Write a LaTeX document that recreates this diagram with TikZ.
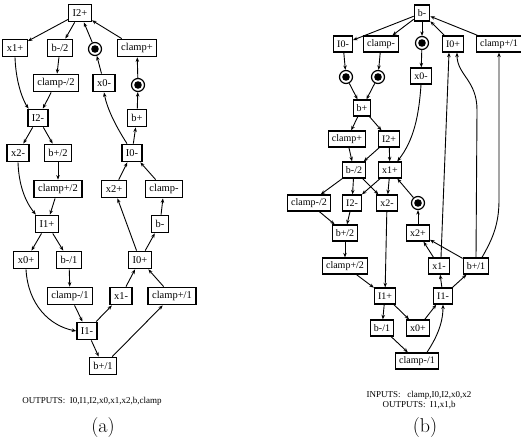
\documentclass[tikz,border=0pt]{standalone}
\usepackage{fontspec}
\usepackage{tikz}
\usetikzlibrary{arrows.meta,shapes.geometric}
\newfontfamily\tms{Liberation Serif}

\begin{document}
\begin{tikzpicture}[x=1pt,y=-1pt]
\tikzstyle{op} = [rectangle, draw, line width=1.3pt, font=\tms\fontsize{10.5}{12}\selectfont,
inner xsep=4pt, inner ysep=0pt, minimum height=17.5pt]
\tikzstyle{opb} = [op, font=\tms\fontsize{10}{12}\selectfont, inner xsep=3.5pt, minimum height=16pt]
\tikzstyle{delay} = [circle, draw, line width=1.2pt, minimum size=13pt, inner sep=0pt,
path picture={\fill (path picture bounding box.center) circle (3.8pt);}]
\tikzstyle{line} = [draw, line width=0.9pt, -{Stealth[length=4.5pt,width=3.5pt]}]
\tikzstyle{caption} = [font=\tms\fontsize{9}{10}\selectfont, align=center]
\tikzstyle{tag} = [font=\fontsize{20}{24}\selectfont]

\useasboundingbox (0,0) rectangle (521,445);

% graph (a)
\node [op] (aI2p) at (80,13) {I2+};
\node [op] (ax1p) at (15,48) {x1+};
\node [op] (abm2) at (60,48) {b-/2};
\node [delay] (acirA) at (95,49) {};
\node [op] (aclp) at (137,48) {clamp+};
\node [op] (aclm2) at (56,83) {clamp-/2};
\node [op] (ax0m) at (104,83) {x0-};
\node [delay] (acirB) at (138,85) {};
\node [op] (aI2m) at (38,118) {I2-};
\node [op] (abp) at (137,118) {b+};
\node [op] (ax2m) at (18,153) {x2-};
\node [op] (abp2) at (58,153) {b+/2};
\node [op] (aI0m) at (132,153) {I0-};
\node [op] (aclp2) at (58,189) {clamp+/2};
\node [op] (ax2p) at (114,189) {x2+};
\node [op] (aclm) at (164,189) {clamp-};
\node [op] (aI1p) at (47,224) {I1+};
\node [op] (abm) at (160,224) {b-};
\node [op] (ax0p) at (26,260) {x0+};
\node [op] (abm1) at (69,260) {b-/1};
\node [op] (aI0p) at (140,260) {I0+};
\node [op] (aclm1) at (70,296) {clamp-/1};
\node [op] (ax1m) at (121,296) {x1-};
\node [op] (aclp1) at (172,296) {clamp+/1};
\node [op] (aI1m) at (87,331) {I1-};
\node [op] (abp1) at (103,366) {b+/1};
\node [caption] (aout) at (92,401) {OUTPUTS:~~I0,I1,I2,x0,x1,x2,b,clamp};
\node [tag] (atag) at (103,427) {(a)};

% graph (b)
\node [opb] (bbm) at (422,13) {b-};
\node [opb] (bI0m) at (343,44) {I0-};
\node [opb] (bclm) at (381,44) {clamp-};
\node [delay] (bcirT) at (422,43) {};
\node [opb] (bI0p) at (453,44) {I0+};
\node [opb] (bclp1) at (499,44) {clamp+/1};
\node [delay] (bcirL) at (346,77) {};
\node [delay] (bcirR) at (378,77) {};
\node [opb] (bx0m) at (421,76) {x0-};
\node [opb] (bbp) at (362,108) {b+};
\node [opb] (bclp) at (347,139) {clamp+};
\node [opb] (bI2p) at (389,139) {I2+};
\node [opb] (bbm2) at (354,170) {b-/2};
\node [opb] (bx1p) at (390,170) {x1+};
\node [opb] (bclm2) at (309,203) {clamp-/2};
\node [opb] (bI2m) at (352,203) {I2-};
\node [opb] (bx2m) at (387,203) {x2-};
\node [delay] (bcirM) at (418,203) {};
\node [opb] (bbp2) at (345,233) {b+/2};
\node [opb] (bx2p) at (418,233) {x2+};
\node [opb] (bclp2) at (345,266) {clamp+/2};
\node [opb] (bx1m) at (439,266) {x1-};
\node [opb] (bbp1) at (476,266) {b+/1};
\node [opb] (bI1p) at (385,296) {I1+};
\node [opb] (bI1m) at (443,296) {I1-};
\node [opb] (bbm1) at (382,328) {b-/1};
\node [opb] (bx0p) at (418,328) {x0+};
\node [opb] (bclm1) at (417,361) {clamp-/1};
\node [caption] (bio) at (419,400) {INPUTS:~~~clamp,I0,I2,x0,x2\\OUTPUTS:~~I1,x1,b};
\node [tag] (btag) at (425,427) {(b)};

\tikzstyle{every path}=[line]
% edges (a)
\path (aI2p) -- (ax1p);
\path (aI2p) -- (abm2);
\path (acirA) -- (aI2p);
\path (aclp) -- (aI2p);
\path (abm2) -- (aclm2);
\path (ax1p.south) .. controls (16,85) and (24,102) .. (aI2m.135);
\path (aclm2) -- (aI2m);
\path (ax0m) -- (acirA);
\path (aI0m.118) .. controls (115,125) and (107,108) .. (ax0m.south);
\path (acirB) -- (aclp);
\path (abp) -- (acirB);
\path (aI0m) -- (abp);
\path (aI2m) -- (ax2m);
\path (aI2m) -- (abp2);
\path (abp2) -- (aclp2);
\path (ax2m.south) .. controls (19,190) and (28,205) .. (aI1p.140);
\path (aclp2) -- (aI1p);
\path (ax2p) -- (aI0m);
\path (aclm) -- (aI0m);
\path (abm) -- (aclm);
\path (aI0p) -- (ax2p);
\path (aI0p) -- (abm);
\path (aI1p) -- (ax0p);
\path (aI1p) -- (abm1);
\path (abm1) -- (aclm1);
\path (ax0p.south) .. controls (28,305) and (50,326) .. (aI1m.west);
\path (aclm1) -- (aI1m);
\path (aI1m) -- (ax1m);
\path (aI1m) -- (abp1);
\path (ax1m) -- (aI0p);
\path (aclp1) -- (aI0p);
\path (abp1) -- (aclp1);

% edges (b)
\path (bbm) -- (bI0m);
\path (bbm) -- (bclm);
\path (bbm) -- (bcirT);
\path (bI0p) -- (bbm);
\path (bclp1) -- (bbm);
\path (bcirT) -- (bx0m);
\path (bI0m) -- (bcirL);
\path (bclm) -- (bcirR);
\path (bcirL) -- (bbp);
\path (bcirR) -- (bbp);
\path (bbp) -- (bclp);
\path (bbp) -- (bI2p);
\path (bx0m.south) .. controls (419,115) and (414,140) .. (bx1p.50);
\path (bclp) -- (bbm2);
\path (bI2p) -- (bbm2);
\path (bI2p) -- (bx1p);
\path (bbm2) -- (bclm2);
\path (bbm2) -- (bI2m);
\path (bbm2) -- (bx2m);
\path (bx1p) -- (bI2m);
\path (bx1p) -- (bx2m);
\path (bcirM) -- (bx1p);
\path (bx2p) -- (bcirM);
\path (bclm2) -- (bbp2);
\path (bI2m) -- (bbp2);
\path (bbp2) -- (bclp2);
\path (bclp2) -- (bI1p);
\path (bx2m) -- (bI1p);
\path (bI1p) -- (bbm1);
\path (bI1p) -- (bx0p);
\path (bbm1) -- (bclm1);
\path ([xshift=10pt]bclm1.north) .. controls (435,340) and (443,325) .. (bI1m.south);
\path (bx0p) -- (bI1m);
\path (bI1m) -- (bx1m);
\path (bI1m) -- (bbp1);
\path (bx1m) -- (bx2p);
\path (bbp1) -- (bx2p);
\path ([xshift=2pt]bx1m.north) -- ([xshift=-4pt]bI0p.south);
\path (bbp1.north) -- (477,110) .. controls (477,80) and (457,75) .. ([xshift=4pt]bI0p.south);
\path ([xshift=6pt]bbp1.north) .. controls (492,240) and (499,225) .. (499,200) -- (bclp1.south);

\end{tikzpicture}
\end{document}
